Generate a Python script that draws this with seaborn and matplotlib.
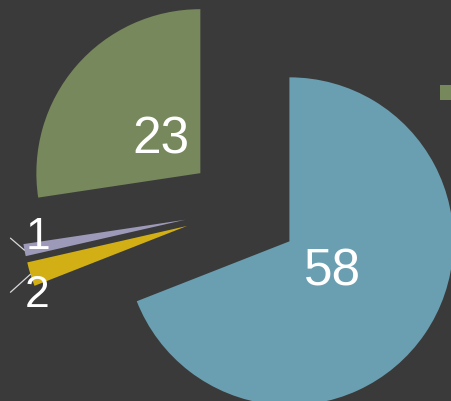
import numpy as np
import matplotlib
matplotlib.use("Agg")
import matplotlib.pyplot as plt
import seaborn as sns
from matplotlib.patches import Rectangle

sns.set_theme(style="dark")
plt.rcParams['font.family'] = ['Liberation Sans', 'DejaVu Sans']

# data (clockwise from 12 o'clock)
categories = ["A", "B", "C", "D"]
values = [58, 2, 1, 23]
colors = sns.color_palette(["#6a9fb1", "#d2b015", "#9d99b9", "#76885c"])
bg = "#3a3a3a"

W, H = 452, 402
fig = plt.figure(figsize=(W / 100, H / 100), dpi=100, facecolor=bg)
ax = fig.add_axes([0, 0, 1, 1])
ax.set_facecolor(bg)

total = sum(values)
radius = 164
center = (242, H - 210)
explode_frac = [0.35, 0.35, 0.35, 0.335]

wedges, texts, autotexts = ax.pie(
    values, colors=colors, startangle=90, counterclock=False,
    radius=radius, center=center, explode=[f * radius for f in explode_frac],
    autopct=lambda p: f"{round(p * total / 100)}" if p * total / 100 >= 10 else "",
    pctdistance=0.32, textprops=dict(color="white", fontsize=37),
    wedgeprops=dict(linewidth=0), frame=True,
)

# outside labels with leader lines for small slices
offsets = {1: ((-20, -18), (7, -20)), 2: ((-14, 12), (13, 14))}
for i, (line_off, text_off) in offsets.items():
    w = wedges[i]
    mid = np.deg2rad((w.theta1 + w.theta2) / 2)
    px = w.center[0] + w.r * np.cos(mid)
    py = w.center[1] + w.r * np.sin(mid)
    ax.plot([px, px + line_off[0]], [py, py + line_off[1]], color="#d8d8d8", lw=0.9)
    ax.text(px + text_off[0], py + text_off[1], f"{values[i]}", color="white",
            fontsize=32, ha="center", va="center")

ax.set_xlim(0, W)
ax.set_ylim(0, H)
ax.set_aspect("equal", adjustable="box")
ax.axis("off")

# partially visible legend swatch
fig.patches.append(Rectangle((440 / W, 1 - 101 / H), 20 / W, 15 / H,
                             transform=fig.transFigure, facecolor=colors[3],
                             edgecolor="none"))

fig.savefig("out.png", dpi=100, facecolor=bg)
